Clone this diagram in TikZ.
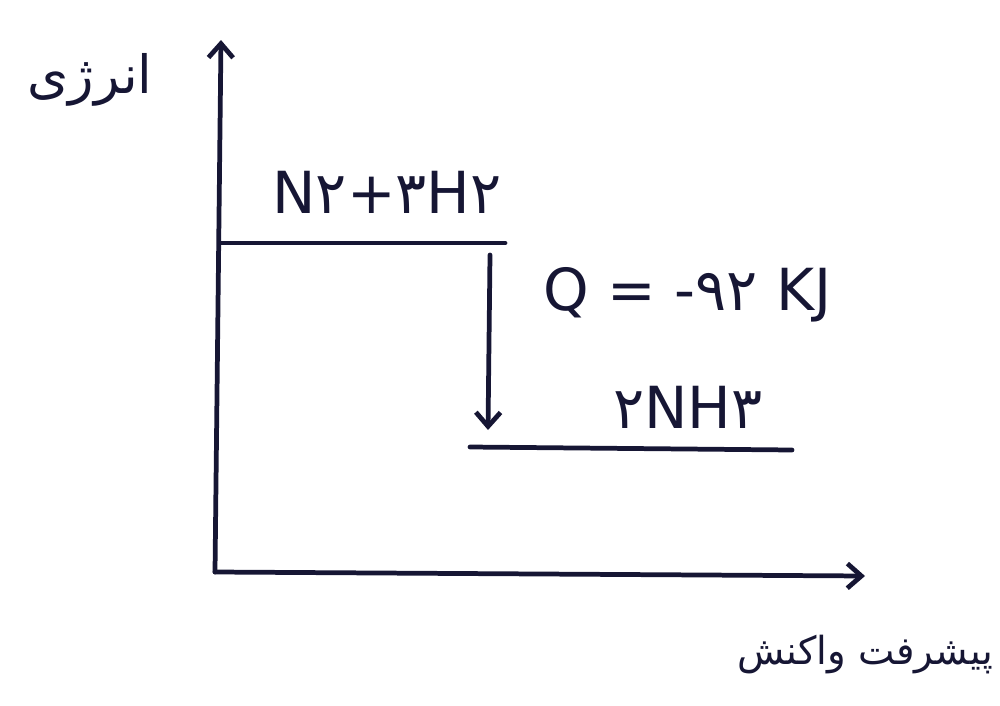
\documentclass[tikz,border=0pt]{standalone}
\usepackage{fontspec}
\usetikzlibrary{arrows.meta}
\setmainfont{DejaVu Sans}
\newfontfamily\arabicfont[Script=Arabic]{DejaVu Sans}
\TeXXeTstate=1
\definecolor{ink}{RGB}{22,22,52}
\begin{document}
\begin{tikzpicture}[x=1cm,y=1cm, >={Straight Barb[length=8pt,width=14pt]},
  ink/.style={line width=2.7pt, color=ink, line cap=round},
  lbl/.style={text=ink, inner sep=0pt, font=\fontsize{33}{36}\selectfont},
  fa/.style={text=ink, inner sep=0pt, font=\arabicfont\fontsize{30}{34}\selectfont}]
\useasboundingbox (0,0) rectangle (20,14.1);
\coordinate (origin) at (4.3,2.66);
\coordinate (ytop) at (4.42,13.3);
\coordinate (xend) at (17.3,2.58);
\coordinate (reacL) at (4.44,9.24);
\coordinate (reacR) at (10.1,9.24);
\coordinate (prodL) at (9.4,5.16);
\coordinate (prodR) at (15.84,5.1);
\coordinate (qtop) at (9.8,9.0);
\coordinate (qbot) at (9.76,5.5);

\draw[ink, ->] (origin) -- (ytop);
\draw[ink, ->] (origin) -- (xend);
\draw[ink] (reacL) -- (reacR);
\draw[ink] (prodL) -- (prodR);
\draw[ink, ->] (qtop) -- (qbot);

\node[lbl] (reac) at (7.74,10.26) {N۲+۳H۲};
\node[lbl] (prod) at (13.76,5.96) {۲NH۳};
\node[lbl] (heat) at (13.75,8.2) {Q = -۹۲ KJ};
\node[fa] (energy) at (1.8,12.5) {\beginR انرژی\endR};
\node[fa, font=\arabicfont\fontsize{22}{26}\selectfont] (progress) at (17.3,1.0) {\beginR پیشرفت واکنش\endR};
\end{tikzpicture}
\end{document}
